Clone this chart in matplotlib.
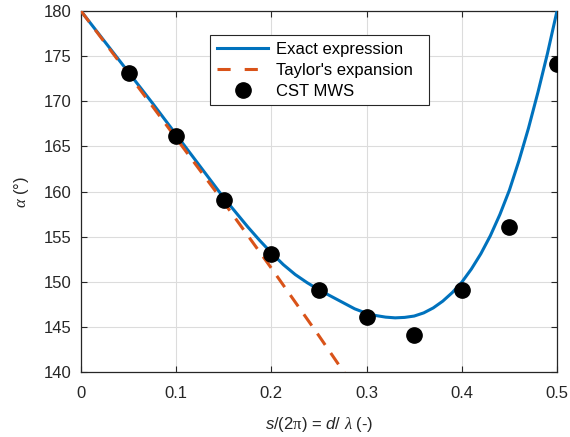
import matplotlib
matplotlib.use("Agg")
import matplotlib.pyplot as plt
from matplotlib.lines import Line2D

plt.rcParams['font.family'] = ['Liberation Sans', 'DejaVu Sans']
plt.rcParams['mathtext.fontset'] = 'custom'
plt.rcParams['mathtext.rm'] = 'Liberation Serif'
plt.rcParams['mathtext.it'] = 'Liberation Serif:italic'
plt.rcParams['mathtext.sf'] = 'Liberation Sans:italic'

# Exact expression
exact_x = [0.0, 0.025, 0.05, 0.075, 0.1, 0.125, 0.15, 0.175, 0.1875, 0.2, 0.2125, 0.225, 0.2375,
           0.25, 0.2625, 0.275, 0.2875, 0.3, 0.31, 0.32, 0.33, 0.34, 0.35, 0.36, 0.37, 0.38,
           0.39, 0.4, 0.41, 0.42, 0.43, 0.44, 0.45, 0.46, 0.47, 0.48, 0.49, 0.5]
exact_y = [180.0, 176.6, 173.2, 169.8, 166.3, 162.8, 159.3, 156.1, 154.6, 153.2, 151.9, 150.8, 149.9,
           149.1, 148.4, 147.7, 147.0, 146.5, 146.25, 146.08, 146.0, 146.05, 146.2, 146.55, 147.1, 147.85,
           148.8, 149.95, 151.4, 153.1, 155.1, 157.45, 160.15, 163.4, 167.0, 171.0, 175.3, 180.0]

# Taylor's expansion
taylor_x = [0.0, 0.05, 0.1, 0.15, 0.2, 0.25, 0.3]
taylor_y = [180.0, 173.0, 165.9, 158.8, 151.5, 144.0, 136.3]

# CST MWS
cst_x = [0.05, 0.1, 0.15, 0.2, 0.25, 0.3, 0.35, 0.4, 0.45, 0.5]
cst_y = [173.1, 166.1, 159.1, 153.1, 149.1, 146.1, 144.1, 149.1, 156.1, 174.1]

labels = ['Exact expression', "Taylor's expansion", 'CST MWS']
xticks = [0, 0.1, 0.2, 0.3, 0.4, 0.5]
xticklabels = ['0', '0.1', '0.2', '0.3', '0.4', '0.5']
yticks = [140, 145, 150, 155, 160, 165, 170, 175, 180]

BLUE = '#0072BD'
ORANGE = '#D95319'

fig = plt.figure(figsize=(5.7, 4.37), dpi=100)
ax = fig.add_axes([81/570, 1-372/437, 476/570, 361/437])

ax.plot(exact_x, exact_y, color=BLUE, lw=2.2, zorder=3)
ax.plot(taylor_x, taylor_y, color=ORANGE, lw=2.2, ls=(0, (4.5, 3.2)), zorder=3)
ax.plot(cst_x, cst_y, 'o', color='black', ms=11, ls='none', zorder=4)

ax.set_xlim(0, 0.5)
ax.set_ylim(140, 180)
ax.set_xticks(xticks)
ax.set_xticklabels(xticklabels)
ax.set_yticks(yticks)
ax.grid(True, color='#dcdcdc', lw=0.8)
ax.set_axisbelow(True)
ax.tick_params(direction='in', top=True, right=True, labelsize=12, colors='#262626',
               length=4, width=0.8)
ax.tick_params(axis='x', pad=10)
ax.tick_params(axis='y', pad=7)
for s in ax.spines.values():
    s.set_color('#262626')
    s.set_linewidth(0.9)

ax.set_xlabel(r'$\mathsf{s}$/(2$\mathrm{\pi}$) = $\mathsf{d}$/ $\lambda$ (-)', fontsize=12,
              color='#262626', labelpad=10)
ax.set_ylabel(r'$\alpha$ (°)', fontsize=12, color='#262626', labelpad=9)

handles = [
    Line2D([], [], color=BLUE, lw=2.2),
    Line2D([], [], color=ORANGE, lw=2.2, ls=(0, (4.3, 4.6))),
    Line2D([], [], marker='o', color='black', ms=11, ls='none'),
]
x0 = (210 - 81) / 476
x1 = (429 - 81) / 476
ytop = (372 - 35) / 361
ybot = (372 - 105) / 361
leg = ax.legend(handles, labels, loc='upper left', bbox_to_anchor=(x0, ybot, x1 - x0, ytop - ybot),
                mode='expand', fontsize=12, frameon=True, fancybox=False, edgecolor='#262626',
                framealpha=1, borderpad=0.4, handlelength=3.1, handletextpad=0.45,
                labelspacing=0.36, borderaxespad=0)
leg.get_frame().set_linewidth(0.8)

fig.savefig('out.png', dpi=100)
